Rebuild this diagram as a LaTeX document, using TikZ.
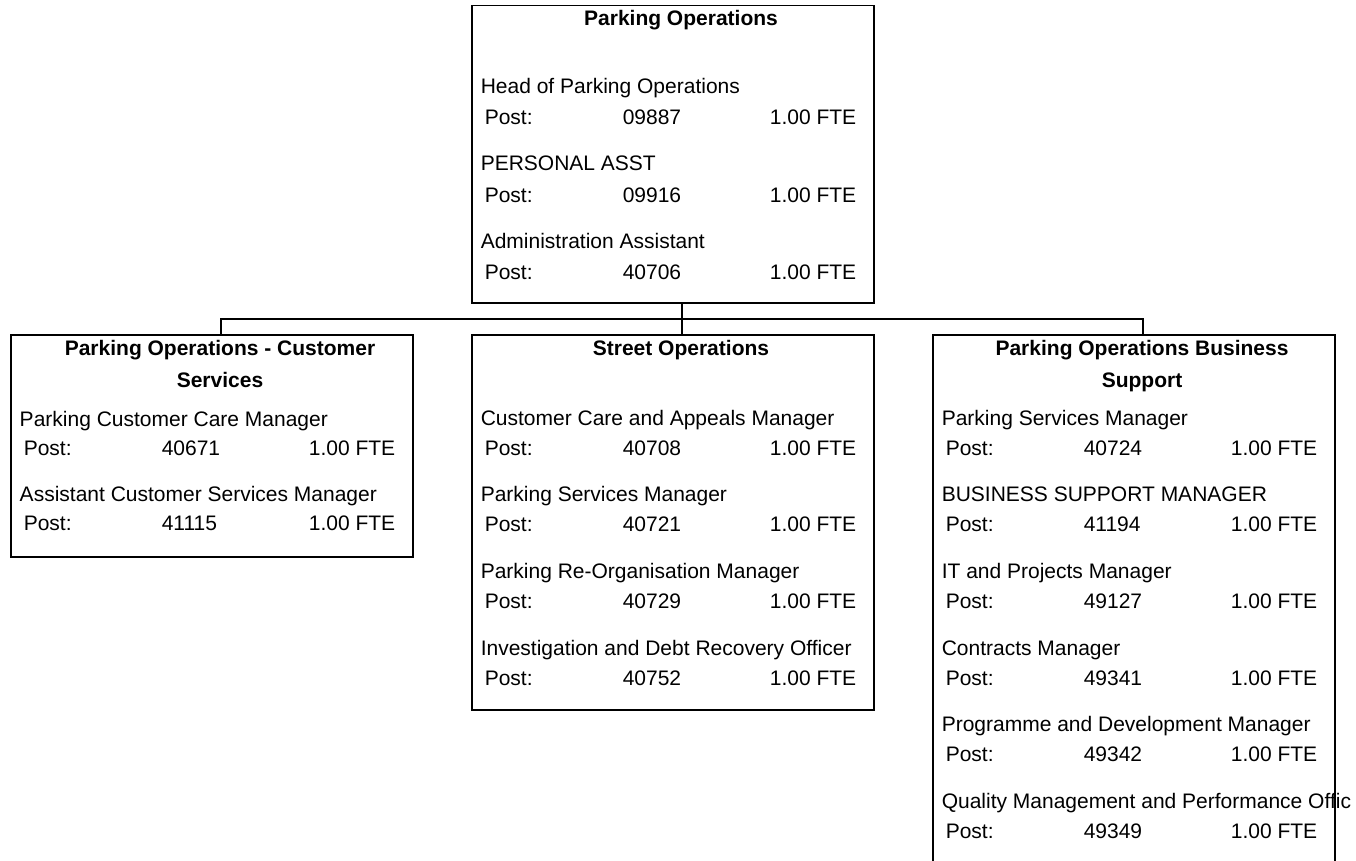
\documentclass[tikz,border=0pt]{standalone}
\usepackage{fontspec}
\setmainfont{Liberation Sans}
\usetikzlibrary{positioning}

\begin{document}
\begin{tikzpicture}[x=1pt,y=-1pt,line width=1.5pt,
    unit box/.style={draw,rectangle,inner sep=0pt,minimum width=402pt,anchor=north west},
    job/.style={anchor=base west,inner sep=0pt,font=\fontsize{21}{25}\selectfont},
    fte/.style={anchor=base east,inner sep=0pt,font=\fontsize{21}{25}\selectfont},
    head/.style={anchor=base,inner sep=0pt,font=\fontsize{21}{25}\selectfont\bfseries}]

            \clip (0,0) rectangle (1356,861);
            \useasboundingbox (0,0) rectangle (1356,861);

            % boxes
            \node[unit box, minimum height=297pt] (ops) at (471,5) {};
            \node[unit box, minimum height=222pt] (cust) at (10,334) {};
            \node[unit box, minimum height=375pt] (street) at (471,334) {};
            \node[unit box, minimum height=560pt] (supp) at (932,334) {};

            % headings
            \node[head] (ops-h) at (681,26) {Parking Operations};
            \node[head] (cust-h1) at (220,355) {Parking Operations - Customer};
            \node[head] (cust-h2) at (220,387) {Services};
            \node[head] (street-h) at (681,355) {Street Operations};
            \node[head] (supp-h1) at (1142,355) {Parking Operations Business};
            \node[head] (supp-h2) at (1142,387) {Support};

            % posts
            \foreach \t/\n [count=\i from 0] in {Head of Parking Operations/09887,PERSONAL ASST/09916,Administration Assistant/40706}{
                \node[job] (ops-t\i) at (480,{94+77*\i}) {\t};
                \node[job] (ops-p\i) at (484,{125+77*\i}) {Post:};
                \node[job] (ops-n\i) at (622,{125+77*\i}) {\n};
                \node[fte] (ops-f\i) at (857,{125+77*\i}) {1.00 FTE};
            }
            \foreach \t/\n [count=\i from 0] in {Parking Customer Care Manager/40671,Assistant Customer Services Manager/41115}{
                \node[job] (cust-t\i) at (19,{426+75*\i}) {\t};
                \node[job] (cust-p\i) at (23,{455+75*\i}) {Post:};
                \node[job] (cust-n\i) at (161,{455+75*\i}) {\n};
                \node[fte] (cust-f\i) at (396,{455+75*\i}) {1.00 FTE};
            }
            \foreach \t/\n [count=\i from 0] in {Customer Care and Appeals Manager/40708,Parking Services Manager/40721,Parking Re-Organisation Manager/40729,Investigation and Debt Recovery Officer/40752}{
                \node[job] (street-t\i) at (480,{425+76.7*\i}) {\t};
                \node[job] (street-p\i) at (484,{455+76.7*\i}) {Post:};
                \node[job] (street-n\i) at (622,{455+76.7*\i}) {\n};
                \node[fte] (street-f\i) at (857,{455+76.7*\i}) {1.00 FTE};
            }
            \foreach \t/\n [count=\i from 0] in {Parking Services Manager/40724,BUSINESS SUPPORT MANAGER/41194,IT and Projects Manager/49127,Contracts Manager/49341,Programme and Development Manager/49342,Quality Management and Performance Offic/49349}{
                \node[job] (supp-t\i) at (941,{425+76.7*\i}) {\t};
                \node[job] (supp-p\i) at (945,{455+76.7*\i}) {Post:};
                \node[job] (supp-n\i) at (1083,{455+76.7*\i}) {\n};
                \node[fte] (supp-f\i) at (1318,{455+76.7*\i}) {1.00 FTE};
            }

            % connectors
            \coordinate (bus) at (0,319);
            \draw ([xshift=9pt]ops.south) -- ([xshift=9pt]street.north);
            \draw ([xshift=9pt]cust.north) -- ([xshift=9pt]cust.north |- bus)
                -- ([xshift=9pt]supp.north |- bus) -- ([xshift=9pt]supp.north);

            ;
        \end{tikzpicture}
\end{document}
